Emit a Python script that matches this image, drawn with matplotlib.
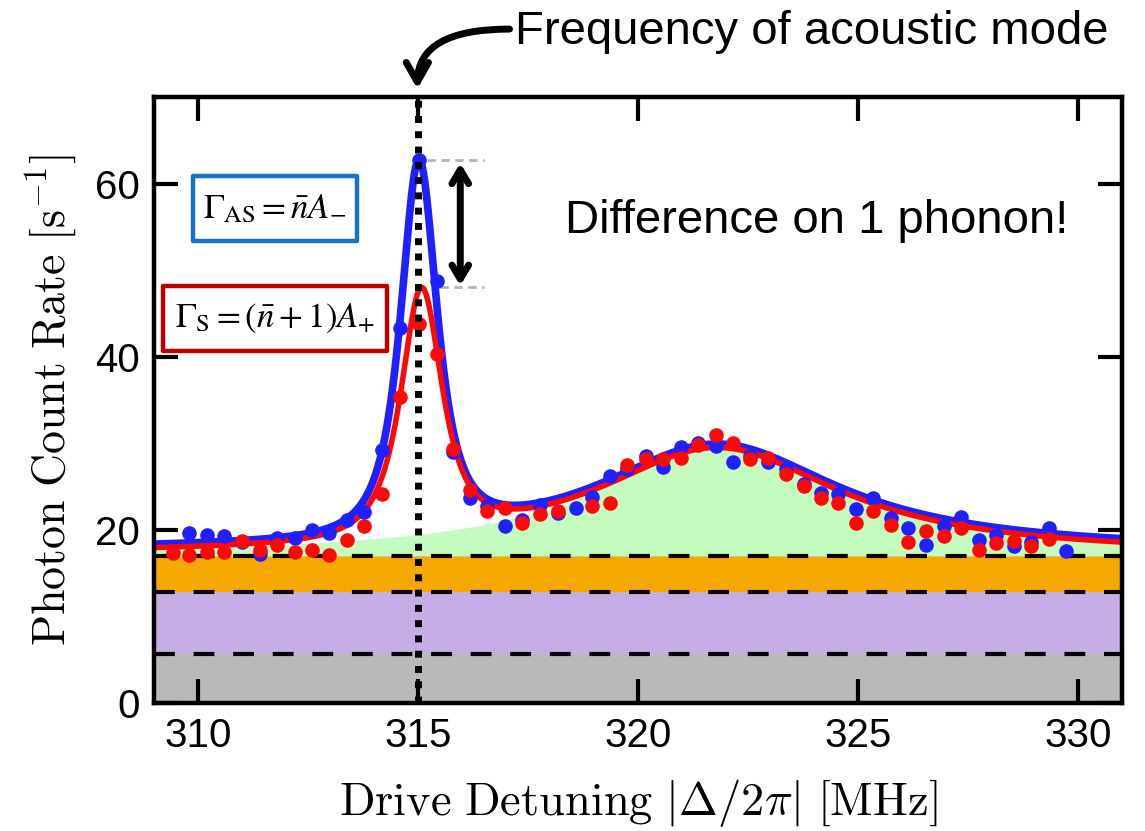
import numpy as np
import matplotlib.pyplot as plt
from matplotlib.patches import Rectangle, FancyArrowPatch

plt.rcParams['mathtext.fontset'] = 'cm'

# measured points: drive detuning [MHz] and photon count rate [1/s]
detuning = [309.44, 309.80, 310.20, 310.60, 311.00, 311.41, 311.79, 312.21,
            312.59, 312.97, 313.38, 313.78, 314.18, 314.58, 315.02, 315.42,
            315.79, 316.18, 316.57, 316.97, 317.37, 317.78, 318.17, 318.58,
            318.96, 319.36, 319.75, 320.17, 320.57, 320.97, 321.36, 321.77,
            322.16, 322.55, 322.95, 323.36, 323.76, 324.15, 324.55, 324.95,
            325.35, 325.75, 326.13, 326.54, 326.95, 327.34, 327.74, 328.13,
            328.54, 328.93, 329.33, 329.73]
anti_stokes = [np.nan, 19.6, 19.4, 19.35, 18.6, 17.2, 19.1, 19.1, 20.0, 19.6,
               21.15, 22.1, 29.2, 43.3, 62.7, 48.8, 29.0, 23.65, 22.8, 20.5,
               21.2, 22.9, 22.0, 22.5, 23.8, 26.2, 27.0, 28.6, 27.3, 29.6,
               30.1, 29.7, 27.9, 28.6, 27.9, 27.0, 25.3, 24.3, 24.2, 22.4,
               23.7, 21.35, 20.2, 18.3, 20.4, 21.5, 18.85, 19.4, 18.1, 18.6,
               20.2, 17.6]
stokes = [17.3, 17.1, 17.5, 17.5, 18.7, 17.7, 18.3, 17.5, 17.7, 17.1,
          18.8, 20.4, 24.2, 35.4, 43.8, 40.3, 29.4, 24.6, 22.2, 22.5,
          20.8, 21.8, 22.2, np.nan, 22.8, 23.1, 27.5, 28.2, 28.2, 28.3,
          29.8, 31.0, 30.0, 28.2, 28.3, 26.5, 25.1, 23.65, 23.1, 20.8,
          22.2, 20.6, 18.65, 19.9, 19.35, 20.2, 17.7, 18.5, 18.7, 18.2,
          18.95, np.nan]

# background contributions (stacked levels)
band_levels = [0.0, 5.7, 12.8, 17.0]
band_colors = ['#b9b9b9', '#c6ade6', '#f5a800']

# fitted model parameters
broad_center, broad_amp, broad_width = 321.8, 12.4, 3.4
as_center, as_amp, as_width, as_offset = 315.02, 42.8, 0.64, 0.5
s_center, s_amp, s_width, s_offset = 315.08, 28.4, 0.72, 0.1
mode_freq = 315.0


def broad_mode(x):
    return band_levels[-1] + broad_amp / (1 + ((x - broad_center) / broad_width) ** 2)


def narrow_mode(x, c, a, w):
    return a / (1 + ((x - c) / w) ** 2) ** 1.5


fig = plt.figure(figsize=(11.45, 8.31), dpi=100)
ax = fig.add_axes([0.1345, 0.154, 0.8455, 0.729])

xf = np.linspace(309, 331, 900)
green = broad_mode(xf)
blue_fit = green + as_offset + narrow_mode(xf, as_center, as_amp, as_width)
red_fit = green + s_offset + narrow_mode(xf, s_center, s_amp, s_width)

for lo, hi, col in zip(band_levels[:-1], band_levels[1:], band_colors):
    ax.axhspan(lo, hi, color=col, lw=0, zorder=1)
ax.fill_between(xf, band_levels[-1], green, color='#c4fbbf', lw=0, zorder=1)
for lev in band_levels[1:]:
    ax.axhline(lev, color='black', lw=3, ls=(0, (5, 4.5)), zorder=2)

ax.plot(xf, blue_fit, color='#2020ff', lw=5.5, zorder=3)
ax.plot(xf, red_fit, color='#ff0808', lw=4, zorder=3.1)
ax.plot(detuning, anti_stokes, 'o', color='#2020ff', ms=10.5, mew=0, zorder=4)
ax.plot(detuning, stokes, 'o', color='#ff0808', ms=10.5, mew=0, zorder=4.1)

ax.axvline(mode_freq, color='black', lw=5, ls=(0, (1, 1.2)), zorder=6)

# peak difference marker
peak_b, peak_r = blue_fit.max(), red_fit.max()
ax.plot([315.2, 316.5], [peak_b, peak_b], color='#b4b4b4', lw=2, ls=(0, (3, 2)), zorder=3)
ax.plot([315.5, 316.5], [peak_r, peak_r], color='#b4b4b4', lw=2, ls=(0, (3, 2)), zorder=3)
ax.annotate('', xy=(315.96, peak_b - 0.4), xytext=(315.96, peak_r + 0.2),
            arrowprops=dict(arrowstyle='<->,head_length=1.0,head_width=0.6',
                            lw=5, color='black', shrinkA=0, shrinkB=0), zorder=5)

ax.text(324.05, 55.7, 'Difference on 1 phonon!', fontsize=34,
        family='Liberation Sans', ha='center', va='center')

# legend boxes
ax.add_patch(Rectangle((309.89, 53.4), 3.73, 7.5, fc='white', ec='#1a72c0',
                       lw=3.2, zorder=5, joinstyle='round'))
ax.text(311.75, 57.2, r'$\Gamma_{\mathrm{AS}} = \bar{n}A_{-}$', fontsize=25,
        ha='center', va='center', zorder=6, math_fontfamily='stix')
ax.add_patch(Rectangle((309.2, 40.7), 5.1, 7.5, fc='white', ec='#c00000',
                       lw=3.2, zorder=5, joinstyle='round'))
ax.text(311.75, 44.5, r'$\Gamma_{\mathrm{S}} = (\bar{n}+1)A_{+}$', fontsize=25,
        ha='center', va='center', zorder=6, math_fontfamily='stix')

ax.set_xlim(309, 331)
ax.set_ylim(0, 70)
ax.set_xticks([310, 315, 320, 325, 330])
ax.set_yticks([0, 20, 40, 60])
ax.tick_params(direction='in', length=17, width=3, top=True, right=True,
               labelsize=29, pad=10)
for lab in ax.get_xticklabels() + ax.get_yticklabels():
    lab.set_family('Liberation Sans')
for sp in ax.spines.values():
    sp.set_linewidth(3.2)
    sp.set_zorder(7)

ax.set_xlabel(r'$\mathrm{Drive\ Detuning}\ |\Delta/2\pi|\ [\mathrm{MHz}]$',
              fontsize=33.5, labelpad=16)
ax.set_ylabel(r'$\mathrm{Photon\ Count\ Rate}\ [\mathrm{s}^{-1}]$',
              fontsize=33, labelpad=12)

# annotation above the plot
fig.text(0.45, 0.962, 'Frequency of acoustic mode', fontsize=34,
         family='Liberation Sans', ha='left', va='center')
arrow = FancyArrowPatch((0.445, 0.965), (0.3645, 0.893), transform=fig.transFigure,
                        connectionstyle='angle3,angleA=0,angleB=90',
                        arrowstyle='->,head_length=14,head_width=8',
                        lw=5, color='black', shrinkA=0, shrinkB=0)
fig.add_artist(arrow)

fig.savefig('out.png', dpi=100)
